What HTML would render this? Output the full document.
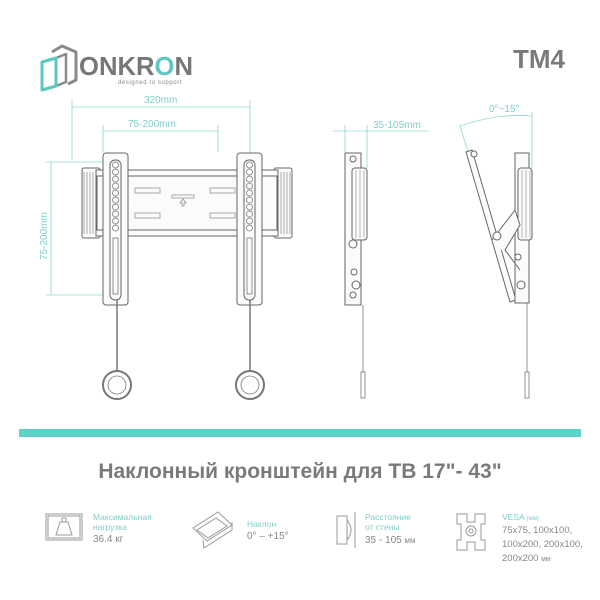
<!DOCTYPE html>
<html><head><meta charset="utf-8"><style>
html,body{margin:0;padding:0;background:#fff;}
svg{display:block;font-family:"Liberation Sans","DejaVu Sans",sans-serif;}
</style></head><body>
<svg width="600" height="600" viewBox="0 0 600 600" xmlns="http://www.w3.org/2000/svg">
<rect width="600" height="600" fill="#fff"/>
<!-- logo -->
<g fill="none" stroke-linejoin="round">
<path d="M52 52 L62 46 L76 52 L76 80 L68 84" stroke="#8a8a8a" stroke-width="3"/>
<path d="M56 58 L66 54 L66 82 L56 86" stroke="#8a8a8a" stroke-width="2.5"/>
<path d="M42 62 L56 58 L56 86 L42 90 Z" stroke="#5cc9c0" stroke-width="3"/>
</g>
<text x="79" y="75" font-size="26" font-weight="bold" fill="#777" textLength="114" lengthAdjust="spacingAndGlyphs">ONKR<tspan fill="#5cc9c0">O</tspan>N</text>
<text x="118" y="84" font-size="6" fill="#888" letter-spacing="0.6">designed to support</text>
<text x="513" y="68" font-size="26" font-weight="bold" fill="#7a7a7a">TM4</text>

<!-- dimensions front -->
<g stroke="#8fd6cf" stroke-width="0.8" fill="none">
<line x1="72" y1="107" x2="250" y2="107"/>
<line x1="72" y1="100" x2="72" y2="160"/>
<line x1="250" y1="100" x2="250" y2="160"/>
<line x1="103" y1="131" x2="218" y2="131"/>
<line x1="103" y1="125" x2="103" y2="152"/>
<line x1="218" y1="125" x2="218" y2="152"/>
<line x1="51" y1="162" x2="51" y2="295"/>
<line x1="46" y1="162" x2="108" y2="162"/>
<line x1="46" y1="295" x2="108" y2="295"/>
<line x1="333" y1="131" x2="428" y2="131"/>
<line x1="345" y1="125" x2="345" y2="152"/>
<line x1="367" y1="125" x2="367" y2="168"/>
<path d="M460 126 Q497 113 532 116"/>
<line x1="532" y1="112" x2="532" y2="168"/>
<line x1="460" y1="126" x2="468" y2="152"/>
</g>
<g font-size="10" fill="#7fcfc8">
<text x="144" y="103">320mm</text>
<text x="128" y="127">75-200mm</text>
<text x="373" y="128">35-105mm</text>
<text x="489" y="112">0°~15°</text>
<text transform="translate(47 260) rotate(-90)">75-200mm</text>
</g>

<!-- front bracket -->
<g stroke="#666" stroke-width="1" fill="#fbfbfb">
<rect x="82" y="168" width="18" height="70" rx="2"/>
<rect x="274" y="168" width="18" height="70" rx="2"/>
<rect x="96" y="170" width="182" height="66"/>
<rect x="97" y="176" width="180" height="54"/>
<rect x="103" y="153" width="25" height="152" rx="3"/>
<rect x="237" y="153" width="25" height="152" rx="3"/>
<rect x="110" y="160" width="11" height="140" rx="5"/>
<rect x="244" y="160" width="11" height="140" rx="5"/>
</g>
<g stroke="#888" stroke-width="0.7" fill="none">
<line x1="84" y1="172" x2="84" y2="234"/><line x1="87" y1="172" x2="87" y2="234"/><line x1="90" y1="172" x2="90" y2="234"/><line x1="93" y1="172" x2="93" y2="234"/>
<line x1="281" y1="172" x2="281" y2="234"/><line x1="284" y1="172" x2="284" y2="234"/><line x1="287" y1="172" x2="287" y2="234"/><line x1="290" y1="172" x2="290" y2="234"/>
<rect x="135" y="188" width="25" height="5"/><rect x="135" y="213" width="25" height="5"/>
<rect x="210" y="188" width="25" height="5"/><rect x="210" y="213" width="25" height="5"/>
<rect x="172" y="195" width="22" height="3"/>
<path d="M183 199 l-3 4 h2 v3 h2 v-3 h2 z"/>
</g>
<g fill="none" stroke="#777" stroke-width="0.8">
<circle cx="115.5" cy="165" r="3"/><circle cx="115.5" cy="172" r="3"/><circle cx="115.5" cy="179" r="3"/><circle cx="115.5" cy="186" r="3"/><circle cx="115.5" cy="193" r="3"/><circle cx="115.5" cy="200" r="3"/><circle cx="115.5" cy="207" r="3"/><circle cx="115.5" cy="214" r="3"/><circle cx="115.5" cy="221" r="3"/><circle cx="115.5" cy="228" r="3"/>
<circle cx="249.5" cy="165" r="3"/><circle cx="249.5" cy="172" r="3"/><circle cx="249.5" cy="179" r="3"/><circle cx="249.5" cy="186" r="3"/><circle cx="249.5" cy="193" r="3"/><circle cx="249.5" cy="200" r="3"/><circle cx="249.5" cy="207" r="3"/><circle cx="249.5" cy="214" r="3"/><circle cx="249.5" cy="221" r="3"/><circle cx="249.5" cy="228" r="3"/>
<rect x="113" y="238" width="5" height="56"/><rect x="247" y="238" width="5" height="56"/>
<line x1="117" y1="300" x2="117" y2="372" stroke-width="1.5"/>
<line x1="250" y1="300" x2="250" y2="372" stroke-width="1.5"/>
<circle cx="117" cy="385" r="14" stroke-width="2"/><circle cx="117" cy="385" r="9"/>
<circle cx="250" cy="385" r="14" stroke-width="2"/><circle cx="250" cy="385" r="9"/>
</g>

<!-- side view -->
<g stroke="#666" stroke-width="1" fill="#fbfbfb">
<rect x="345" y="153" width="16" height="152"/>
<rect x="352" y="168" width="15" height="72" rx="3"/>
<path d="M466 152 L472 150 L516 300 L510 302 Z"/>
<rect x="515" y="153" width="14" height="150"/>
<rect x="518" y="168" width="14" height="72" rx="3"/>
<path d="M492 240 L515 210 L520 225 L505 250 L520 270"/>
</g>
<g stroke="#888" stroke-width="0.6">
<line x1="356" y1="170" x2="356" y2="238"/><line x1="360" y1="170" x2="360" y2="238"/><line x1="364" y1="170" x2="364" y2="238"/>
<line x1="522" y1="170" x2="522" y2="238"/><line x1="526" y1="170" x2="526" y2="238"/><line x1="530" y1="170" x2="530" y2="238"/>
</g>
<g fill="#fff" stroke="#666" stroke-width="1">
<circle cx="353" cy="159" r="3"/><circle cx="353" cy="244" r="4"/><circle cx="354" cy="272" r="3"/><circle cx="356" cy="285" r="4"/><circle cx="353" cy="295" r="3"/>
<circle cx="474" cy="154" r="3"/><circle cx="497" cy="236" r="4"/><circle cx="518" cy="257" r="3"/><circle cx="521" cy="285" r="4"/>
</g>
<g stroke="#777" fill="#fff">
<line x1="363" y1="305" x2="363" y2="372" stroke-width="0.8"/>
<rect x="361" y="372" width="4" height="26" stroke-width="0.8"/>
<line x1="527" y1="303" x2="527" y2="372" stroke-width="0.8"/>
<rect x="525" y="372" width="4" height="26" stroke-width="0.8"/>
</g>

<!-- teal bar -->
<rect x="19" y="429" width="562" height="8" fill="#5ed2c8"/>
<text x="300" y="478" text-anchor="middle" font-size="21" font-weight="bold" fill="#7a7a7a">Наклонный кронштейн для ТВ 17"- 43"</text>

<!-- icons -->
<g fill="none" stroke="#999" stroke-width="1">
<rect x="46" y="514" width="36" height="26"/><rect x="48" y="516" width="32" height="22"/>
<path d="M56 535 L60 522 L68 522 L72 535 Z"/><rect x="62" y="518" width="4" height="4"/>
<path d="M193 528 L218 512 L232 525 L207 541 Z"/><path d="M197 530 L216 518 L227 526 L208 538 Z"/>
<path d="M203 540 L204 548 L232 530 L232 522"/>
<rect x="337" y="516" width="10" height="28"/><path d="M347 520 Q355 530 347 540"/><line x1="355" y1="512" x2="355" y2="548"/>
<path d="M457 514 h10 v8 h8 v-8 h10 v10 h-4 v16 h4 v10 h-10 v-8 h-8 v8 h-10 v-10 h4 v-16 h-4 z"/>
<circle cx="471" cy="531" r="5"/><circle cx="471" cy="531" r="2"/>
</g>
<g font-size="8.5" fill="#7fcfc8">
<text x="93" y="520">Максимальная</text><text x="93" y="530">нагрузка</text>
<text x="247" y="527">Наклон</text>
<text x="365" y="520">Расстояние</text><text x="365" y="530">от стены</text>
<text x="502" y="520">VESA <tspan font-size="6">(мм)</tspan></text>
</g>
<g font-size="10" fill="#888">
<text x="93" y="542">36.4 кг</text>
<text x="247" y="539">0° – +15°</text>
<text x="365" y="543">35 - 105 <tspan font-size="8">мм</tspan></text>
<text x="502" y="533" font-size="9.5">75x75, 100x100,</text>
<text x="502" y="547" font-size="9.5">100x200, 200x100,</text>
<text x="502" y="561" font-size="9.5">200x200 <tspan font-size="7">мм</tspan></text>
</g>
</svg>
</body></html>
